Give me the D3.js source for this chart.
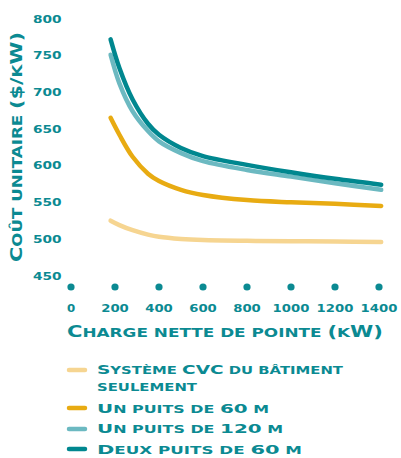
<!DOCTYPE html>
<html>
<head>
<meta charset="utf-8">
<script src="https://cdn.jsdelivr.net/npm/d3@7"></script>
<style>
  body { margin: 0; background: #fff; }
  text { font-family: "DejaVu Sans", sans-serif; font-weight: bold; fill: #0b8a92; }
</style>
</head>
<body>
<div class="chart"></div>
<script>
// dimensions
const width = 401;
const height = 458;

// données
const chargeKW = [180, 220, 280, 350, 400, 500, 600, 800, 1000, 1200, 1410];
const seriesNames = [
  ["Système CVC du bâtiment", "seulement"],
  ["Un puits de 60 m"],
  ["Un puits de 120 m"],
  ["Deux puits de 60 m"]
];
const cvcSeul = [524, 518, 511, 505, 502, 499, 497.5, 496.5, 496, 495.5, 495];
const unPuits60 = [664, 641, 611, 588, 578, 566, 559, 552, 549, 547, 544];
const unPuits120 = [750, 711, 673, 646, 632, 616, 605, 593, 584, 575, 566];
const deuxPuits60 = [771, 732, 689, 656, 641, 623, 612, 600, 590, 581, 573];
const yTicks = [450, 500, 550, 600, 650, 700, 750, 800];
const xTicks = [0, 200, 400, 600, 800, 1000, 1200, 1400];
const colors = ["#f6d591", "#e8ab12", "#6cb9c1", "#00878f"];

const allSeries = [cvcSeul, unPuits60, unPuits120, deuxPuits60];

// largeurs du texte (police étendue de l'original)
const digitWidth = 9.2;
const legendWidths = [[246, 100], [172], [186], [205]];

const svg = d3.select('.chart')
  .append('svg')
  .attr('width', width)
  .attr('height', height);

const x = d3.scaleLinear().domain([0, 1400]).range([71, 379]);
const y = d3.scaleLinear().domain([450, 800]).range([275, 18]);

function stretch(sel, w) {
  sel.attr('textLength', w).attr('lengthAdjust', 'spacingAndGlyphs');
}

// petites capitales : minuscules en majuscules réduites
function smallCaps(sel, str, size) {
  const runs = str.match(/([a-zà-ÿ ]+|[^a-zà-ÿ ]+)/g);
  runs.forEach(r => {
    const lower = /[a-zà-ÿ]/.test(r);
    sel.append('tspan')
      .style('font-size', (lower ? size * 0.8 : size) + 'px')
      .style('text-transform', 'uppercase')
      .text(r);
  });
}

// axe Y (étiquettes seules)
svg.append('g')
  .selectAll('text')
  .data(yTicks)
  .join('text')
    .attr('x', 61.5)
    .attr('y', d => y(d) + 4.5)
    .attr('text-anchor', 'end')
    .style('font-size', '11px')
    .call(s => s.attr('textLength', d => String(d).length * digitWidth + 1)
      .attr('lengthAdjust', 'spacingAndGlyphs'))
    .text(d => d);

// axe X : points + étiquettes
svg.append('g')
  .selectAll('circle')
  .data(xTicks)
  .join('circle')
    .attr('cx', d => x(d))
    .attr('cy', 287)
    .attr('r', 3.6)
    .style('fill', '#0b8a92');

svg.append('g')
  .selectAll('text')
  .data(xTicks)
  .join('text')
    .attr('x', d => x(d))
    .attr('y', 312)
    .attr('text-anchor', 'middle')
    .style('font-size', '11px')
    .call(s => s.attr('textLength', d => String(d).length * digitWidth - (d === 0 ? 1 : 0))
      .attr('lengthAdjust', 'spacingAndGlyphs'))
    .text(d => d);

// titres des axes
svg.append('text')
  .attr('transform', 'translate(21.5, 147) rotate(-90)')
  .attr('text-anchor', 'middle')
  .call(stretch, 230)
  .call(smallCaps, 'Coût unitaire ($/kW)', 16.5);

svg.append('text')
  .attr('x', 225)
  .attr('y', 337)
  .attr('text-anchor', 'middle')
  .call(stretch, 316)
  .call(smallCaps, 'Charge nette de pointe (kW)', 15.5);

// courbes
const line = d3.line()
  .x((d, i) => x(chargeKW[i]))
  .y(d => y(d))
  .curve(d3.curveCatmullRom.alpha(0.5));

svg.append('g')
  .selectAll('path')
  .data(allSeries)
  .join('path')
    .attr('d', d => line(d))
    .style('fill', 'none')
    .style('stroke', (d, i) => colors[i])
    .style('stroke-width', 4.5)
    .style('stroke-linecap', 'round');

// légende
const legendLineY = [370, 408, 429, 449];
const legendBase = [[374, 390.7], [413], [433.3], [454]];
const legend = svg.append('g');
seriesNames.forEach((lines, i) => {
  legend.append('line')
    .attr('x1', 69).attr('x2', 85)
    .attr('y1', legendLineY[i]).attr('y2', legendLineY[i])
    .style('stroke', colors[i])
    .style('stroke-width', 4.5)
    .style('stroke-linecap', 'round');
  lines.forEach((t, j) => {
    legend.append('text')
      .attr('x', 97)
      .attr('y', legendBase[i][j])
      .call(stretch, legendWidths[i][j])
      .call(smallCaps, t, 12);
  });
});
</script>
</body>
</html>
